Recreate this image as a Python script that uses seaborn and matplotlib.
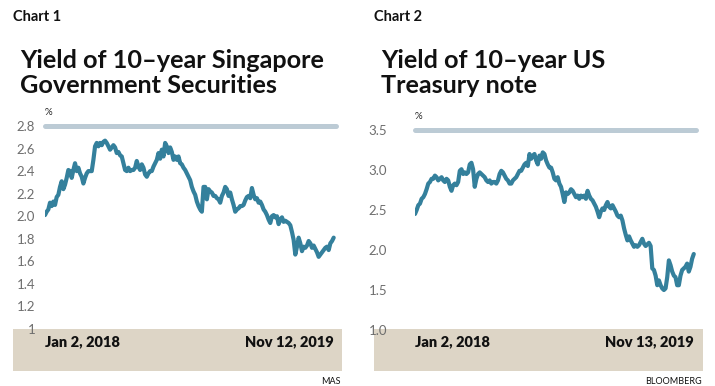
import seaborn as sns
import matplotlib.pyplot as plt
import pandas as pd
import numpy as np
from matplotlib.patches import Rectangle

# Chart 1: yield of 10-year Singapore Government Securities (%)
sg_start, sg_end = "2018-01-02", "2019-11-12"
sg_yield = [
    2.01, 2.04, 2.06, 2.12, 2.09, 2.13, 2.10, 2.17, 2.19, 2.26, 2.31, 2.24, 2.28, 2.34,
    2.41, 2.40, 2.34, 2.41, 2.47, 2.40, 2.43, 2.38, 2.35, 2.29, 2.34, 2.38, 2.40, 2.40,
    2.40, 2.50, 2.62, 2.65, 2.62, 2.65, 2.63, 2.66, 2.67, 2.65, 2.62, 2.59, 2.61, 2.63,
    2.61, 2.56, 2.57, 2.54, 2.53, 2.47, 2.41, 2.40, 2.43, 2.40, 2.41, 2.41, 2.43, 2.49,
    2.44, 2.41, 2.46, 2.43, 2.37, 2.35, 2.38, 2.40, 2.40, 2.44, 2.47, 2.50, 2.56, 2.51,
    2.59, 2.53, 2.65, 2.62, 2.56, 2.61, 2.57, 2.50, 2.53, 2.50, 2.53, 2.47, 2.46, 2.43,
    2.41, 2.38, 2.35, 2.32, 2.26, 2.22, 2.19, 2.13, 2.09, 2.06, 2.04, 2.26, 2.26, 2.15,
    2.24, 2.22, 2.21, 2.18, 2.18, 2.16, 2.15, 2.12, 2.18, 2.21, 2.26, 2.24, 2.18, 2.21,
    2.15, 2.10, 2.04, 2.06, 2.07, 2.09, 2.09, 2.10, 2.14, 2.17, 2.18, 2.16, 2.25, 2.19,
    2.15, 2.16, 2.12, 2.13, 2.10, 2.06, 2.04, 2.01, 1.97, 1.94, 2.00, 2.01, 1.99, 2.00,
    1.93, 1.97, 1.99, 1.95, 1.96, 1.95, 1.94, 1.92, 1.86, 1.79, 1.66, 1.73, 1.81, 1.76,
    1.69, 1.73, 1.72, 1.74, 1.78, 1.76, 1.72, 1.74, 1.71, 1.68, 1.64, 1.66, 1.68, 1.70,
    1.72, 1.73, 1.70, 1.76, 1.78, 1.81,
]
sg_ticks = [1.0, 1.2, 1.4, 1.6, 1.8, 2.0, 2.2, 2.4, 2.6, 2.8]
sg_ticklabels = ["1", "1.2", "1.4", "1.6", "1.8", "2.0", "2.2", "2.4", "2.6", "2.8"]

# Chart 2: yield of 10-year US Treasury note (%)
us_start, us_end = "2018-01-02", "2019-11-13"
us_yield = [
    2.45, 2.50, 2.56, 2.58, 2.64, 2.66, 2.70, 2.76, 2.83, 2.85, 2.89, 2.89, 2.93, 2.91,
    2.87, 2.89, 2.91, 2.87, 2.85, 2.89, 2.87, 2.79, 2.74, 2.81, 2.83, 2.81, 2.85, 2.99,
    3.01, 2.95, 2.97, 2.95, 2.97, 3.07, 3.09, 3.01, 2.79, 2.89, 2.95, 2.97, 2.95, 2.93,
    2.91, 2.87, 2.85, 2.87, 2.83, 2.85, 2.85, 2.83, 2.87, 2.95, 2.99, 2.97, 2.93, 2.89,
    2.87, 2.83, 2.83, 2.87, 2.89, 2.91, 2.95, 2.99, 2.99, 3.03, 3.07, 3.09, 3.05, 3.20,
    3.14, 3.18, 3.20, 3.12, 3.07, 3.18, 3.14, 3.22, 3.20, 3.12, 3.07, 3.03, 3.03, 2.97,
    2.89, 2.87, 2.91, 2.83, 2.79, 2.70, 2.60, 2.72, 2.70, 2.72, 2.76, 2.74, 2.70, 2.66,
    2.68, 2.64, 2.68, 2.66, 2.68, 2.64, 2.74, 2.68, 2.64, 2.62, 2.58, 2.54, 2.48, 2.41,
    2.48, 2.52, 2.50, 2.56, 2.60, 2.54, 2.52, 2.56, 2.52, 2.48, 2.43, 2.41, 2.43, 2.37,
    2.27, 2.19, 2.12, 2.17, 2.12, 2.08, 2.04, 2.06, 2.04, 2.06, 2.10, 2.14, 2.08, 2.05,
    2.07, 2.09, 2.05, 1.77, 1.75, 1.68, 1.56, 1.62, 1.56, 1.52, 1.50, 1.52, 1.66, 1.87,
    1.81, 1.73, 1.68, 1.66, 1.56, 1.56, 1.68, 1.75, 1.77, 1.79, 1.83, 1.73, 1.79, 1.89,
    1.95,
]
us_ticks = [1.0, 1.5, 2.0, 2.5, 3.0, 3.5]
us_ticklabels = ["1.0", "1.5", "2.0", "2.5", "3.0", "3.5"]

LINE = "#34809c"
BAR = "#bccbd5"
BEIGE = "#ddd5c6"
GREY = "#6e6e6e"
W, H = 715, 386

sns.set_theme(style="white")
plt.rcParams["font.family"] = ["Lato", "DejaVu Sans"]

fig = plt.figure(figsize=(W / 100, H / 100), dpi=100)


def fx(px):
    return px / W


def fy(py):
    return 1 - py / H


def panel(left, right, top, bottom, start, end, values, ticks, ticklabels, pad,
          box, tag, title, d0, d1, source):
    # beige date band behind the bottom of the plot
    fig.patches.append(Rectangle((fx(box[0]), fy(371)), fx(box[1] - box[0]), fy(329) - fy(371),
                                 transform=fig.transFigure, facecolor=BEIGE, edgecolor="none", zorder=0))
    ax = fig.add_axes([fx(left), fy(bottom), fx(right - left), fy(top) - fy(bottom)])
    ax.set_zorder(2)
    ax.patch.set_alpha(0)
    df = pd.DataFrame({"date": pd.date_range(start, end, periods=len(values)), "yield": values})
    sns.lineplot(data=df, x="date", y="yield", ax=ax, color=LINE, linewidth=3.0, zorder=3)
    t0, t1 = df["date"].iloc[0], df["date"].iloc[-1]
    ax.set_xlim(t0, t1 + (t1 - t0) * 0.008)
    ax.set_ylim(ticks[0], ticks[-1])
    ax.axhline(ticks[-1], color=BAR, linewidth=3.6, clip_on=False, zorder=2)
    ax.set_yticks(ticks)
    ax.set_yticklabels(ticklabels, color=GREY, fontsize=9.5)
    ax.tick_params(axis="y", length=0, pad=pad)
    ax.set_xticks([])
    ax.set_xlabel("")
    ax.set_ylabel("")
    for s in ax.spines.values():
        s.set_visible(False)
    ax.text(0, 1.045, "%", transform=ax.transAxes, fontsize=7, color="#222222", va="bottom")

    fig.text(fx(box[0]), fy(17), tag, fontsize=10.5, fontweight="bold", color="#111111",
             va="center", family=["Liberation Sans Narrow", "Lato", "DejaVu Sans"])
    fig.text(fx(box[0] + 7), fy(73), title, fontsize=18.2, fontweight="bold", color="#111111",
             va="center", linespacing=1.1)
    fig.text(fx(left), fy(342), d0, fontsize=10.5, fontweight="heavy", color="#111111", va="center")
    fig.text(fx(right - 2), fy(342), d1, fontsize=10.5, fontweight="heavy", color="#111111",
             va="center", ha="right")
    fig.text(fx(box[1] - 1), fy(381), source, fontsize=6.5, color="#111111", va="center", ha="right")
    return ax


panel(45, 336, 126, 329, sg_start, sg_end, sg_yield, sg_ticks, sg_ticklabels, 7,
      (13, 342), "Chart 1", "Yield of 10–year Singapore\nGovernment Securities",
      "Jan 2, 2018", "Nov 12, 2019", "MAS")
panel(415, 696, 130, 330, us_start, us_end, us_yield, us_ticks, us_ticklabels, 20,
      (374, 703), "Chart 2", "Yield of 10–year US\nTreasury note",
      "Jan 2, 2018", "Nov 13, 2019", "BLOOMBERG")

fig.savefig("out.png", dpi=100)
